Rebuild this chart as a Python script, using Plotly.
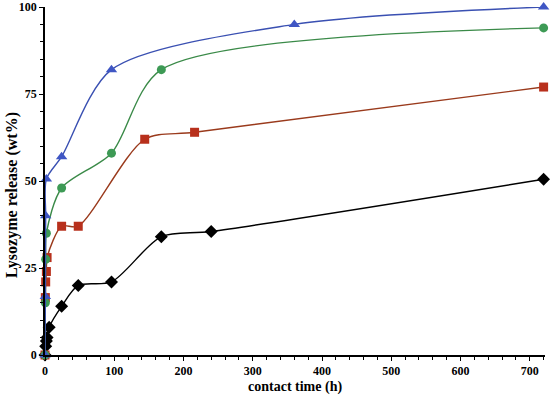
import plotly.graph_objects as go

# contact time (h) and release (wt%)
t_black = [0, 1, 2, 3, 6, 24, 48, 96, 168, 240, 720]
y_black = [0, 2.5, 4, 5, 8, 14, 20, 21, 34, 35.5, 50.5]

t_red = [0, 0.5, 1, 2, 3, 24, 48, 144, 216, 720]
y_red = [0, 16.5, 21, 24, 28, 37, 37, 62, 64, 77]

t_green = [0, 0.5, 1, 2, 24, 96, 168, 720]
y_green = [0, 15, 27.5, 35, 48, 58, 82, 94]

t_blue = [0, 0.5, 1, 2, 24, 96, 360, 720]
y_blue = [0, 16.8, 40, 50.6, 57, 82, 95, 100]

x_ticks = [0, 100, 200, 300, 400, 500, 600, 700]
y_ticks = [0, 25, 50, 75, 100]

fig = go.Figure()

def add(t, y, line_col, mk_col, symbol, size):
    fig.add_trace(go.Scatter(
        x=t, y=y, mode="lines+markers",
        line=dict(color=line_col, width=1.4, shape="spline", smoothing=0.8),
        marker=dict(color=mk_col, symbol=symbol, size=size),
        cliponaxis=False, showlegend=False))

add(t_black, y_black, "#000000", "#000000", "diamond", 10)
add(t_red, y_red, "#9a3a1c", "#b8301c", "square", 9)
add(t_green, y_green, "#3a8a48", "#3d9a55", "circle", 9)
add(t_blue, y_blue, "#3a50b2", "#3f56c4", "triangle-up", 10)

tickfont = dict(family="Liberation Serif", size=12, color="#000000")
titlefont_x = dict(family="Liberation Serif", size=14, color="#000000")
titlefont_y = dict(family="Liberation Serif", size=16, color="#000000")

fig.update_layout(
    width=550, height=396,
    margin=dict(l=45, r=5, t=7, b=41),
    paper_bgcolor="white", plot_bgcolor="white",
    xaxis=dict(
        range=[0, 722], tickvals=x_ticks, ticktext=[f"<b>{v}</b>" for v in x_ticks],
        tickfont=tickfont, automargin=False,
        showgrid=False, zeroline=False, showline=True, linecolor="black", linewidth=1.5,
        ticks="outside", ticklen=4, tickwidth=1.2, tickcolor="black",
        minor=dict(dtick=20, ticks="outside", ticklen=3, tickcolor="black", tickwidth=1),
    ),
    yaxis=dict(
        range=[0, 100], tickvals=y_ticks, ticktext=[f"<b>{v}</b>" for v in y_ticks],
        tickfont=tickfont, automargin=False,
        showgrid=False, zeroline=False, showline=True, linecolor="black", linewidth=1.5,
        ticks="outside", ticklen=4, tickwidth=1.2, tickcolor="black",
        minor=dict(dtick=5, ticks="outside", ticklen=3, tickcolor="black", tickwidth=1),
    ),
    annotations=[
        dict(text="<b>contact time (h)</b>", xref="paper", yref="paper", x=0.5, y=-0.092,
             xanchor="center", yanchor="middle", showarrow=False, font=titlefont_x),
        dict(text="<b>Lysozyme release (wt%)</b>", xref="paper", yref="paper", x=-0.066, y=0.46,
             xanchor="center", yanchor="middle", textangle=-90, showarrow=False, font=titlefont_y),
    ],
)

fig.write_html("out.html", config={"displayModeBar": False},
               post_script="document.body.style.margin='0';")
